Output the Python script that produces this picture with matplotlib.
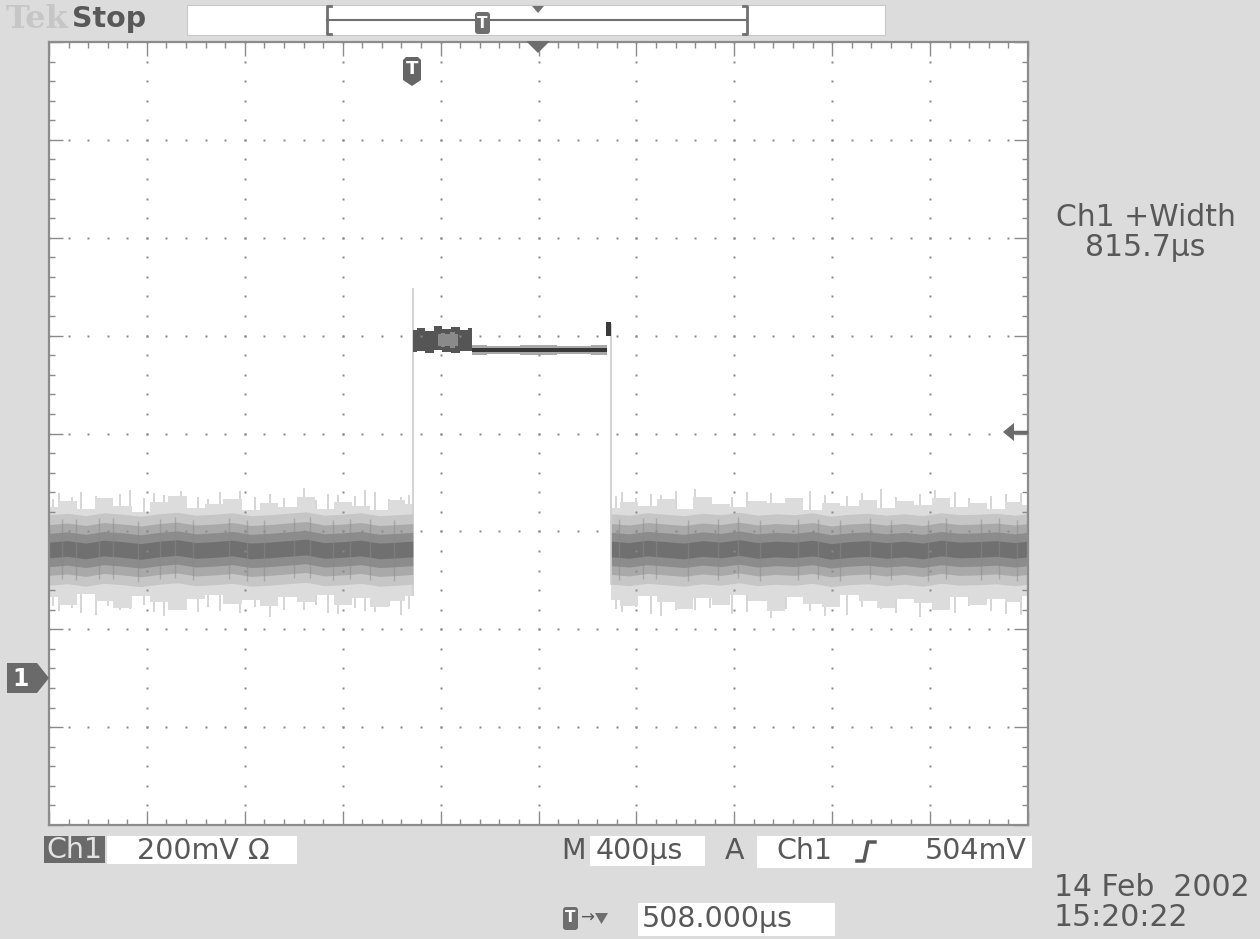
import numpy as np
import matplotlib.pyplot as plt
from matplotlib.patches import Rectangle, Polygon, FancyBboxPatch

# ---- waveform data (time in us from left screen edge, level in mV) ----
left_t = [0, 75, 150, 225, 300, 375, 450, 525, 600, 675, 750, 825, 900, 975,
          1050, 1125, 1200, 1275, 1350, 1425, 1486]
left_hi = [350, 362, 345, 368, 352, 340, 360, 372, 348, 355, 366, 343, 358, 350,
           370, 346, 361, 352, 344, 365, 356]
left_lo = [165, 150, 172, 158, 143, 168, 155, 139, 162, 170, 152, 160, 147, 166,
           156, 171, 150, 163, 145, 158, 168]
left_mid = [262, 265, 260, 266, 263, 259, 264, 267, 261, 263, 266, 260, 262, 265,
            268, 261, 263, 266, 260, 262, 264]
left_spike_t = [15, 40, 95, 130, 190, 240, 290, 330, 390, 430, 470, 540, 610, 650,
                700, 780, 840, 905, 960, 1040, 1090, 1140, 1180, 1250, 1290, 1330,
                1390, 1440, 1470]
left_spike_hi = [366, 378, 370, 381, 372, 364, 376, 385, 368, 379, 375, 383, 370,
                 366, 380, 382, 371, 376, 369, 388, 365, 377, 374, 372, 384, 380,
                 367, 371, 375]
left_spike_lo = [148, 138, 144, 133, 130, 147, 139, 142, 150, 135, 128, 141, 135,
                 145, 137, 133, 146, 125, 139, 140, 149, 134, 131, 143, 138, 136,
                 147, 129, 141]
left_dark_t = [55, 110, 205, 260, 365, 455, 515, 590, 735, 810, 880, 1000, 1065,
               1160, 1230, 1310, 1410]

right_t = [2298, 2370, 2445, 2520, 2595, 2670, 2745, 2820, 2895, 2970, 3045, 3120,
           3195, 3270, 3345, 3420, 3495, 3570, 3645, 3720, 3795, 3870, 3945, 4000]
right_hi = [348, 360, 352, 366, 345, 371, 355, 349, 363, 357, 368, 344, 359, 351,
            365, 347, 362, 354, 369, 350, 358, 346, 361, 353]
right_lo = [160, 147, 168, 155, 142, 163, 150, 171, 157, 138, 165, 152, 146, 169,
            158, 144, 161, 153, 140, 166, 149, 162, 155, 167]
right_mid = [264, 261, 266, 263, 260, 265, 262, 267, 261, 264, 262, 266, 259, 263,
             265, 261, 264, 260, 266, 262, 263, 265, 261, 264]
right_spike_t = [2315, 2340, 2400, 2460, 2500, 2560, 2640, 2700, 2790, 2850, 2950,
                 3010, 3110, 3170, 3260, 3320, 3400, 3460, 3560, 3620, 3700, 3760,
                 3850, 3910, 3970]
right_spike_hi = [372, 380, 368, 377, 374, 383, 386, 369, 371, 381, 378, 366, 383,
                  374, 372, 379, 387, 370, 376, 384, 381, 368, 373, 377, 379]
right_spike_lo = [141, 136, 146, 131, 127, 139, 139, 144, 131, 135, 124, 142, 137,
                  128, 129, 145, 142, 133, 126, 140, 133, 147, 138, 131, 130]
right_dark_t = [2330, 2425, 2480, 2610, 2735, 2815, 2905, 3060, 3140, 3230, 3355,
                3440, 3590, 3665, 3810, 3880, 3955]

burst_t = [1486, 1520, 1555, 1590, 1625, 1660, 1695, 1727]
burst_hi = [712, 716, 710, 720, 714, 718, 712, 715]
burst_lo = [666, 668, 664, 670, 667, 664, 669, 668]
burst_light_t = [1590, 1610, 1630, 1650, 1670]
burst_light_hi = [704, 706, 703, 707, 704]
burst_light_lo = [678, 676, 679, 675, 678]
flat_t = [1727, 1850, 2000, 2150, 2278]
flat_hi = [680, 679, 681, 679, 680]
flat_lo = [661, 662, 660, 662, 661]
flat_mid = [671, 670, 671, 670, 671]
tip_t = [2276, 2296]
tip_hi = [728, 728]
tip_lo = [700, 700]
rise_t, rise_lo, rise_hi = 1486, 170, 796
fall_t, fall_lo, fall_hi = 2298, 192, 722

band_halfwidths = [72, 52, 34, 16]
band_colors = ['#c6c6c6', '#a9a9a9', '#8c8c8c', '#707070']

TXT = '#585858'
FONT = 'DejaVu Sans'
FS = 20.5

fig = plt.figure(figsize=(12.6, 9.39), dpi=100, facecolor='#dcdcdc')
ax = fig.add_axes([49 / 1260, 1 - 825 / 939, 979 / 1260, 783 / 939])
ax.set_facecolor('white')
ax.set_xlim(0, 4000)
ax.set_ylim(-300, 1300)

# graticule: dotted major lines, ticked border
minor_x = np.arange(0, 4001, 80)
minor_y = np.arange(-300, 1301, 40)
for gx in np.arange(400, 4000, 400):
    ax.plot(np.full(len(minor_y), gx), minor_y, 's', ms=1.5, color='#8a8a8a',
            mec='none', zorder=4)
for gy in np.arange(-100, 1300, 200):
    ax.plot(minor_x, np.full(len(minor_x), gy), 's', ms=1.5, color='#8a8a8a',
            mec='none', zorder=4)
ax.set_xticks(np.arange(0, 4001, 400))
ax.set_xticks(minor_x, minor=True)
ax.set_yticks(np.arange(-300, 1301, 200))
ax.set_yticks(minor_y, minor=True)
ax.tick_params(which='both', direction='in', top=True, right=True,
               labelbottom=False, labelleft=False, color='#8a8a8a', width=1)
ax.tick_params(which='major', length=10)
ax.tick_params(which='minor', length=4)
for s in ax.spines.values():
    s.set_color('#8c8c8c')
    s.set_linewidth(1.6)


def noise(t, lo, hi, mid, st, slo, shi, dark_t):
    ax.vlines(st, slo, shi, color='#d2d2d2', lw=1.3, zorder=1)
    ax.fill_between(t, lo, hi, step='mid', color='#dcdcdc', lw=0, zorder=1)
    m = np.array(mid)
    for hw, c in zip(band_halfwidths, band_colors):
        ax.fill_between(t, m - hw, m + hw, color=c, lw=0, zorder=2)
    # darker streaks through the band
    c = np.interp(dark_t, t, mid)
    ax.vlines(dark_t, c - 62, c + 62, color='#8a8a8a', lw=1.0, zorder=2, alpha=0.5)


noise(left_t, left_lo, left_hi, left_mid, left_spike_t, left_spike_lo,
      left_spike_hi, left_dark_t)
noise(right_t, right_lo, right_hi, right_mid, right_spike_t, right_spike_lo,
      right_spike_hi, right_dark_t)

ax.plot([rise_t, rise_t], [rise_lo, rise_hi], color='#cfcfcf', lw=1.3, zorder=1)
ax.plot([fall_t, fall_t], [fall_lo, fall_hi], color='#cfcfcf', lw=1.3, zorder=1)
ax.fill_between(burst_t, burst_lo, burst_hi, step='mid', color='#555555', lw=0, zorder=2)
ax.fill_between(burst_light_t, burst_light_lo, burst_light_hi, step='mid',
                color='#8a8a8a', lw=0, zorder=2)
ax.fill_between(flat_t, flat_lo, flat_hi, step='mid', color='#a8a8a8', lw=0, zorder=2)
fm = np.array(flat_mid)
ax.fill_between(flat_t, fm - 4, fm + 4, step='mid', color='#383838', lw=0, zorder=2)
ax.fill_between(tip_t, tip_lo, tip_hi, color='#3a3a3a', lw=0, zorder=2)

# ---- screen furniture in pixel coordinates ----
ui = fig.add_axes([0, 0, 1, 1], zorder=5)
ui.set_xlim(0, 1260)
ui.set_ylim(939, 0)
ui.axis('off')
ui.patch.set_alpha(0)

ui.text(6, 20, 'Tek', fontsize=23, family='DejaVu Serif', weight='bold',
        color='#c6c6c6', va='center', ha='left')
ui.text(72, 19, 'Stop', fontsize=FS, family=FONT, weight='bold', color=TXT,
        va='center', ha='left')
ui.add_patch(Rectangle((187, 5), 698, 30, fc='white', ec='#c8c8c8', lw=0.8))
ui.plot([331, 327, 327, 331], [6, 6, 34, 34], color='#707070', lw=2)
ui.plot([743, 747, 747, 743], [6, 6, 34, 34], color='#707070', lw=2)
ui.plot([327, 747], [20, 20], color='#707070', lw=1.5)
ui.add_patch(Polygon([(532, 6), (544, 6), (538, 13)], fc='#707070', ec='none'))
ui.add_patch(FancyBboxPatch((475, 12), 15, 22, boxstyle='round,pad=0,rounding_size=3',
                            fc='#6e6e6e', ec='none'))
ui.text(482.5, 23, 'T', fontsize=11, weight='bold', color='white', ha='center', va='center')
ui.add_patch(Polygon([(526, 41), (550, 41), (538, 53)], fc='#6e6e6e', ec='none'))

# trigger position marker
ui.add_patch(Polygon([(403, 60), (406, 57), (418, 57), (421, 60), (421, 80),
                      (412, 86), (403, 80)], fc='#666666', ec='none'))
ui.text(412, 69, 'T', fontsize=13, weight='bold', color='white', ha='center', va='center')

# channel 1 ground marker and trigger level arrow
ui.add_patch(Polygon([(7, 663), (37, 663), (49, 678), (37, 693), (7, 693)],
                     fc='#6a6a6a', ec='none'))
ui.text(21, 679, '1', fontsize=17, weight='bold', color='white', ha='center', va='center')
ui.add_patch(Polygon([(1003, 432), (1014, 423), (1014, 441)], fc='#6a6a6a', ec='none'))
ui.plot([1012, 1026], [432, 432], color='#6a6a6a', lw=2.5)

ui.text(1146, 218, 'Ch1 +Width', fontsize=FS + 1, family=FONT, color=TXT,
        ha='center', va='center')
ui.text(1145, 248, '815.7\u00b5s', fontsize=FS + 1, family=FONT, color=TXT,
        ha='center', va='center')

# bottom readouts
ui.add_patch(Rectangle((44, 836), 61, 27, fc='#6a6a6a', ec='none'))
ui.text(74.5, 850, 'Ch1', fontsize=FS, family=FONT, color='#e4e4e4', ha='center', va='center')
ui.add_patch(Rectangle((107, 836), 190, 28, fc='white', ec='none'))
ui.text(137, 851, '200mV \u03a9', fontsize=FS, family=FONT, color=TXT, ha='left', va='center')
ui.text(561, 851, 'M', fontsize=FS, family=FONT, color=TXT, ha='left', va='center')
ui.add_patch(Rectangle((590, 836), 115, 30, fc='white', ec='none'))
ui.text(596, 851, '400\u00b5s', fontsize=FS, family=FONT, color=TXT, ha='left', va='center')
ui.text(725, 851, 'A', fontsize=FS, family=FONT, color=TXT, ha='left', va='center')
ui.add_patch(Rectangle((757, 836), 275, 32, fc='white', ec='none'))
ui.text(776, 851, 'Ch1', fontsize=FS, family=FONT, color=TXT, ha='left', va='center')
ui.plot([857, 864, 868, 875], [861, 861, 842, 842], color=TXT, lw=2.5)
ui.text(1027, 851, '504mV', fontsize=FS, family=FONT, color=TXT, ha='right', va='center')

ui.add_patch(FancyBboxPatch((563, 907), 15, 23, boxstyle='round,pad=0,rounding_size=3',
                            fc='#6e6e6e', ec='none'))
ui.text(570.5, 918, 'T', fontsize=11, weight='bold', color='white', ha='center', va='center')
ui.text(587, 918, '\u2192', fontsize=12, color=TXT, ha='center', va='center')
ui.add_patch(Polygon([(595, 913), (608, 913), (601.5, 924)], fc='#6e6e6e', ec='none'))
ui.add_patch(Rectangle((638, 903), 197, 33, fc='white', ec='none'))
ui.text(642, 919, '508.000\u00b5s', fontsize=FS, family=FONT, color=TXT, ha='left', va='center')

ui.text(1054, 888, '14 Feb  2002', fontsize=FS + 1, family=FONT, color=TXT, ha='left', va='center')
ui.text(1054, 918, '15:20:22', fontsize=FS + 1, family=FONT, color=TXT, ha='left', va='center')

fig.savefig('out.png', dpi=100, facecolor=fig.get_facecolor())
